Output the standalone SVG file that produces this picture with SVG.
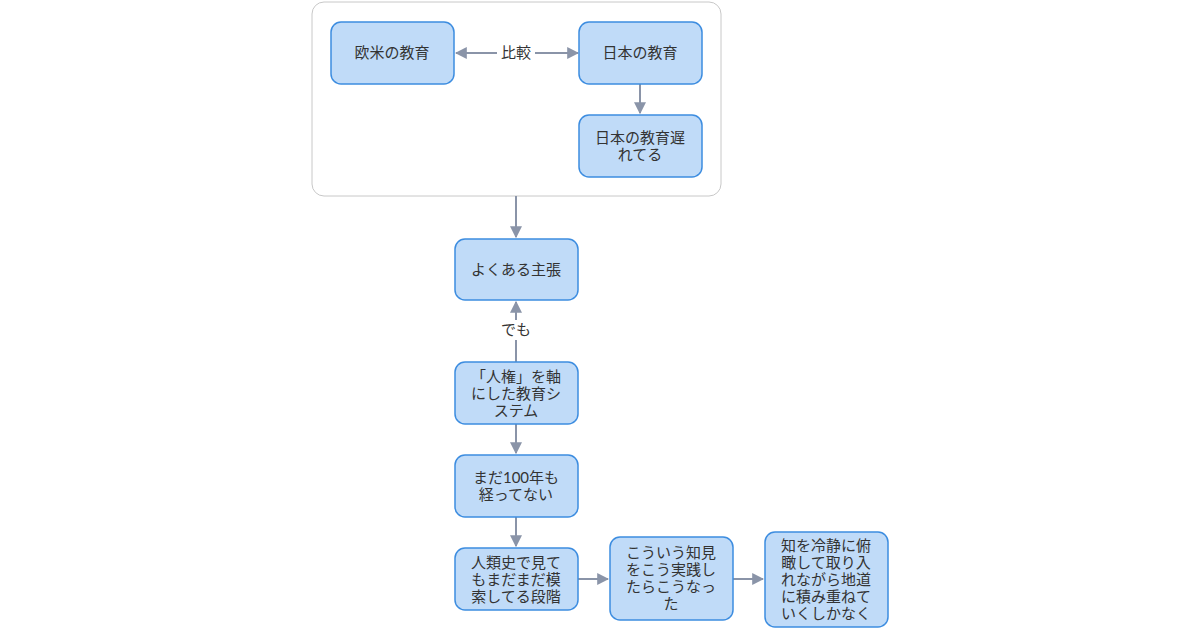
<svg xmlns="http://www.w3.org/2000/svg" width="1200" height="630" viewBox="0 0 1200 630">
<style>
.n{fill:#c0dbf8;stroke:#3d8de0;stroke-width:1.5}
text{font-family:"Lato","Noto Sans CJK JP",sans-serif;font-size:15px;fill:#333;text-anchor:middle}
.e{stroke:#8a94a8;stroke-width:2;fill:none}
</style>
<defs><marker id="a" viewBox="0 0 10 10" refX="9" refY="5" markerWidth="6" markerHeight="6" orient="auto-start-reverse"><path d="M0,0L10,5L0,10z" fill="#8a94a8"/></marker></defs>
<rect x="312" y="2" width="409" height="194" rx="12" fill="#fff" stroke="#c8c8c8"/>
<g id="connectors">
<path class="e" d="M456,53H578" marker-start="url(#a)" marker-end="url(#a)"/>
<rect x="497" y="42" width="38" height="20" fill="#fff"/>
<text x="516" y="58">比較</text>
<path class="e" d="M640,84V113" marker-end="url(#a)"/>
<path class="e" d="M516,196V237" marker-end="url(#a)"/>
<path class="e" d="M516,362V302" marker-end="url(#a)"/>
<rect x="498" y="320" width="36" height="20" fill="#fff"/>
<text x="516" y="335">でも</text>
<path class="e" d="M516,424V453" marker-end="url(#a)"/>
<path class="e" d="M516,517V546" marker-end="url(#a)"/>
<path class="e" d="M578,579H608" marker-end="url(#a)"/>
<path class="e" d="M733,579H763" marker-end="url(#a)"/>
</g>
<g id="n1"><rect class="n" x="331" y="22" width="123" height="62" rx="10"/><text x="392" y="58">欧米の教育</text></g>
<g id="n2"><rect class="n" x="579" y="22" width="123" height="62" rx="10"/><text x="640" y="58">日本の教育</text></g>
<g id="n3"><rect class="n" x="579" y="115" width="123" height="62" rx="10"/><text x="640" y="143">日本の教育遅</text><text x="640" y="160">れてる</text></g>
<g id="n4"><rect class="n" x="455" y="239" width="123" height="61" rx="10"/><text x="516" y="275">よくある主張</text></g>
<g id="n5"><rect class="n" x="455" y="362" width="123" height="62" rx="10"/><text x="516" y="382">「人権」を軸</text><text x="516" y="399">にした教育シ</text><text x="516" y="416">ステム</text></g>
<g id="n6"><rect class="n" x="455" y="455" width="123" height="62" rx="10"/><text x="516" y="483">まだ100年も</text><text x="516" y="500">経ってない</text></g>
<g id="n7"><rect class="n" x="455" y="548" width="123" height="62" rx="10"/><text x="516" y="568">人類史で見て</text><text x="516" y="585">もまだまだ模</text><text x="516" y="602">索してる段階</text></g>
<g id="n8"><rect class="n" x="610" y="537" width="123" height="83" rx="10"/><text x="671" y="558">こういう知見</text><text x="671" y="575">をこう実践し</text><text x="671" y="592">たらこうなっ</text><text x="671" y="609">た</text></g>
<g id="n9"><rect class="n" x="765" y="532" width="123" height="95" rx="10"/><text x="826" y="551">知を冷静に俯</text><text x="826" y="568">瞰して取り入</text><text x="826" y="585">れながら地道</text><text x="826" y="602">に積み重ねて</text><text x="826" y="619">いくしかなく</text></g>
</svg>
